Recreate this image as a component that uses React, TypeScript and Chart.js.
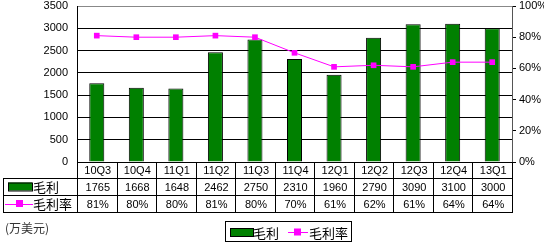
import React, { useEffect, useRef } from "react";
import { Chart, registerables } from "chart.js";

Chart.register(...registerables);

const categories = ["10Q3", "10Q4", "11Q1", "11Q2", "11Q3", "11Q4", "12Q1", "12Q2", "12Q3", "12Q4", "13Q1"];
const grossProfit = [1765, 1668, 1648, 2462, 2750, 2310, 1960, 2790, 3090, 3100, 3000];
const grossMargin = [81, 80, 80, 81, 80, 70, 61, 62, 61, 64, 64];
const seriesNames = ["毛利", "毛利率"];
const unitLabel = "(万美元)";

const GREEN = "#008000";
const MAGENTA = "#FF00FF";
const NUM_FONT = "11px 'Liberation Sans', Arial, sans-serif";
const CJK_FONT = "13px 'Noto Sans CJK SC', sans-serif";

const tablePlugin = {
  id: "dataTable",
  afterDraw(chart: any) {
    const ctx = chart.ctx as CanvasRenderingContext2D;
    const area = chart.chartArea;
    const x = chart.scales.x;
    const n = categories.length;
    const step = (area.right - area.left) / n;
    const rowTops = [area.bottom, area.bottom + 16, area.bottom + 33, area.bottom + 50];
    const tableLeft = 3;
    ctx.save();
    ctx.strokeStyle = "#000";
    ctx.lineWidth = 1;
    const h = (y: number, x1: number, x2: number) => {
      ctx.beginPath();
      ctx.moveTo(x1, Math.round(y) + 0.5);
      ctx.lineTo(x2, Math.round(y) + 0.5);
      ctx.stroke();
    };
    const v = (xx: number, y1: number, y2: number) => {
      ctx.beginPath();
      ctx.moveTo(Math.round(xx) + 0.5, y1);
      ctx.lineTo(Math.round(xx) + 0.5, y2);
      ctx.stroke();
    };
    h(rowTops[1], tableLeft, area.right + 1);
    h(rowTops[2], tableLeft, area.right + 1);
    h(rowTops[3], tableLeft, area.right + 1);
    v(tableLeft, rowTops[1], rowTops[3]);
    for (let i = 0; i <= n; i++) {
      v(area.left + i * step, rowTops[0], rowTops[3]);
    }
    ctx.fillStyle = "#000";
    ctx.font = NUM_FONT;
    ctx.textAlign = "center";
    ctx.textBaseline = "middle";
    for (let i = 0; i < n; i++) {
      const cx = x.getPixelForValue(i) + 1;
      ctx.fillText(categories[i], cx, (rowTops[0] + rowTops[1]) / 2 + 1);
      ctx.fillText(String(grossProfit[i]), cx, (rowTops[1] + rowTops[2]) / 2 + 1);
      ctx.fillText(grossMargin[i] + "%", cx, (rowTops[2] + rowTops[3]) / 2 + 1);
    }
    // legend keys in table
    const r2 = (rowTops[1] + rowTops[2]) / 2;
    const r3 = (rowTops[2] + rowTops[3]) / 2;
    ctx.fillStyle = GREEN;
    ctx.fillRect(8, r2 - 4, 24, 8);
    ctx.strokeRect(8.5, r2 - 3.5, 24, 8);
    ctx.strokeStyle = MAGENTA;
    h(r3, 5, 33);
    ctx.fillStyle = MAGENTA;
    ctx.fillRect(16, r3 - 3.5, 7, 7);
    ctx.fillStyle = "#000";
    ctx.font = CJK_FONT;
    ctx.textAlign = "left";
    ctx.fillText(seriesNames[0], 33, r2 + 1);
    ctx.fillText(seriesNames[1], 33, r3 + 1);

    // unit label
    ctx.fillStyle = "#333";
    ctx.font = "12px 'Noto Sans CJK SC', sans-serif";
    ctx.fillText(unitLabel, 5, 228);

    // bottom legend
    const lx = 225, ly = 221, lw = 126, lh = 20;
    ctx.strokeStyle = "#000";
    ctx.strokeRect(lx + 0.5, ly + 0.5, lw, lh);
    const ly2 = ly + lh / 2 + 1;
    ctx.fillStyle = GREEN;
    ctx.fillRect(230, ly2 - 4, 23, 8);
    ctx.strokeRect(230.5, ly2 - 3.5, 23, 8);
    ctx.strokeStyle = MAGENTA;
    h(ly2, 288, 308);
    ctx.fillStyle = MAGENTA;
    ctx.fillRect(294, ly2 - 3.5, 7, 7);
    ctx.fillStyle = "#000";
    ctx.font = CJK_FONT;
    ctx.fillText(seriesNames[0], 253, ly2 + 1);
    ctx.fillText(seriesNames[1], 309, ly2 + 1);
    ctx.restore();
  },
};

export default function App() {
  const ref = useRef<HTMLCanvasElement>(null);
  useEffect(() => {
    if (!ref.current) return;
    const chart = new Chart(ref.current, {
      type: "bar",
      data: {
        labels: categories,
        datasets: [
          {
            type: "line",
            label: seriesNames[1],
            data: grossMargin.map((v) => v / 100),
            yAxisID: "y1",
            borderColor: MAGENTA,
            backgroundColor: MAGENTA,
            borderWidth: 1,
            pointStyle: "rect",
            pointRadius: 4,
            pointBorderWidth: 0,
            tension: 0,
            order: 1,
          } as any,
          {
            type: "bar",
            label: seriesNames[0],
            data: grossProfit,
            yAxisID: "y",
            backgroundColor: GREEN,
            borderColor: "#000",
            borderWidth: 1,
            categoryPercentage: 1,
            barPercentage: 0.38,
            order: 2,
          },
        ],
      },
      options: {
        responsive: false,
        animation: false,
        maintainAspectRatio: false,
        layout: { padding: { top: 6, bottom: 0, left: 0, right: 0 } },
        plugins: { legend: { display: false }, tooltip: { enabled: false } },
        scales: {
          x: {
            grid: { display: false },
            ticks: { display: false },
            border: { color: "#000" },
            afterFit: (s: any) => {
              s.height = 80;
              s.paddingLeft = 0;
              s.paddingRight = 0;
            },
          },
          y: {
            min: 0,
            max: 3500,
            ticks: {
              stepSize: 500,
              color: "#000",
              padding: 9,
              callback: (v: any) => String(v),
              font: { family: "'Liberation Sans', Arial, sans-serif", size: 11 },
            },
            grid: {
              color: (c: any) => (c.tick && c.tick.value === 3500 ? "#888" : "#000"),
              drawTicks: false,
            },
            border: { color: "#000" },
            afterFit: (s: any) => {
              s.width = 77;
              s.paddingTop = 0;
              s.paddingBottom = 0;
            },
          },
          y1: {
            position: "right",
            min: 0,
            max: 1,
            ticks: {
              stepSize: 0.2,
              color: "#000",
              padding: 3,
              callback: (v: any) => Math.round(Number(v) * 100) + "%",
              font: { family: "'Liberation Sans', Arial, sans-serif", size: 11 },
            },
            grid: { drawOnChartArea: false, tickLength: 4, color: "#000" },
            border: { color: "#555" },
            afterFit: (s: any) => {
              s.width = 32;
              s.paddingTop = 0;
              s.paddingBottom = 0;
            },
          },
        },
      },
      plugins: [tablePlugin],
    });
    return () => chart.destroy();
  }, []);
  return (
    <div style={{ position: "absolute", left: 0, top: 0, width: 544, height: 242, background: "#fff" }}>
      <canvas ref={ref} width={544} height={242} />
    </div>
  );
}
